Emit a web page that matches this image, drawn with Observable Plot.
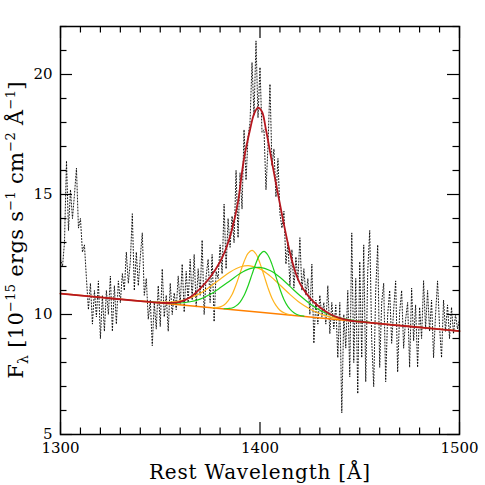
<!DOCTYPE html>
<html><head><meta charset="utf-8">
<script src="https://cdn.jsdelivr.net/npm/d3@7"></script>
<script src="https://cdn.jsdelivr.net/npm/@observablehq/plot@0.6"></script>
<style>body{margin:0;background:#fff} svg{display:block}</style>
</head><body><div id="chart"></div>
<script>
// Observed spectrum, 1 Å steps from 1300 to 1500 Å
const specStart = 1300;
const flux = [
12.3,12.0,13.0,16.4,13.5,15.2,14.0,15.0,16.1,13.6,
14.0,12.6,12.9,11.5,10.2,11.3,9.6,11.0,9.9,11.4,
9.0,10.8,9.3,11.0,10.0,11.6,9.3,11.2,9.6,11.4,
10.5,11.7,11.0,12.6,11.3,12.2,14.2,11.0,12.6,11.2,
12.4,13.4,10.8,11.5,9.8,10.6,8.7,10.5,9.4,11.2,
9.5,11.9,9.9,10.8,9.3,11.3,10.0,10.9,10.2,11.6,
10.4,12.1,10.1,11.8,10.5,12.3,10.6,12.5,10.3,11.9,
10.8,13.1,10.0,11.6,12.3,10.5,12.5,9.7,11.8,11.5,
12.9,11.7,14.6,11.9,14.0,12.8,14.1,13.0,16.0,13.2,
15.9,14.4,17.7,15.6,17.4,18.0,20.5,18.3,21.4,18.2,
20.3,17.6,17.7,15.2,17.0,19.6,16.2,16.9,14.9,16.5,
14.2,13.6,14.3,12.1,13.0,11.2,12.7,11.1,12.4,11.4,
13.2,11.0,11.9,10.8,11.5,10.0,12.1,8.8,10.6,9.6,
10.8,9.9,10.5,9.6,11.2,9.2,10.5,9.4,10.4,8.2,
10.5,5.9,10.0,8.6,11.0,7.4,13.4,8.0,11.5,6.7,
12.2,8.2,12.9,7.2,11.8,13.5,8.9,7.0,11.0,12.9,
7.8,10.5,11.3,7.2,10.0,11.0,8.8,10.2,11.4,7.6,
10.1,11.0,8.6,9.8,10.5,7.8,11.1,8.9,10.4,7.8,
10.3,9.0,11.4,9.4,11.0,9.3,10.6,8.2,10.0,11.4,
9.5,8.2,10.6,9.3,10.4,9.0,10.3,9.2,10.0,9.4,
9.8
];

// Continuum fit
const contWave = [1300, 1350, 1400, 1450, 1500];
const contFlux = [10.87, 10.48, 10.09, 9.70, 9.31];

// Total model fit
const totalWave = [1300,1320,1340,1350,1355,1360,1365,1370,1375,1380,1383,1386,1389,1390,1392,1395,1397,1399,1401,1403,1405,1407,1410,1412,1414,1416,1418,1420,1423,1426,1430,1435,1440,1445,1450,1475,1500];
const totalFlux = [10.87,10.71,10.56,10.49,10.48,10.53,10.72,11.08,11.55,12.2,12.75,13.55,14.7,15.3,16.5,17.7,18.35,18.62,18.45,17.7,16.8,15.9,14.6,13.75,12.95,12.25,11.7,11.3,10.9,10.6,10.3,10.02,9.85,9.75,9.70,9.50,9.31];

// Narrow components (continuum + line)
const narrowOrangeWave = [1376,1378,1380,1382,1384,1386,1388,1390,1392,1394,1396,1398,1400,1402,1404,1406,1408,1410,1412,1414,1416];
const narrowOrangeFlux = [10.29,10.29,10.32,10.40,10.57,10.83,11.24,11.72,12.20,12.55,12.67,12.52,12.13,11.63,11.11,10.68,10.38,10.18,10.07,10.01,9.98];
const narrowGreenWave = [1382,1384,1386,1388,1390,1392,1394,1396,1398,1400,1402,1404,1406,1408,1410,1412,1414,1416,1418,1420,1422];
const narrowGreenFlux = [10.24,10.25,10.27,10.36,10.52,10.79,11.19,11.67,12.15,12.50,12.63,12.47,12.09,11.58,11.06,10.63,10.33,10.14,10.02,9.96,9.93];

// Broad components (continuum + line)
const broadOrangeWave = [1340,1345,1350,1355,1360,1365,1370,1375,1380,1385,1390,1395,1400,1405,1410,1415,1420,1425,1430,1435,1440,1445,1450];
const broadOrangeFlux = [10.57,10.53,10.52,10.52,10.57,10.69,10.88,11.16,11.47,11.77,11.98,12.03,11.90,11.61,11.23,10.84,10.49,10.23,10.03,9.90,9.82,9.75,9.71];
const broadGreenWave = [1345,1350,1355,1360,1365,1370,1375,1380,1385,1390,1395,1400,1405,1410,1415,1420,1425,1430,1435,1440,1445,1450,1455];
const broadGreenFlux = [10.53,10.49,10.48,10.48,10.53,10.64,10.84,11.11,11.41,11.71,11.91,11.96,11.83,11.55,11.17,10.79,10.45,10.18,9.99,9.86,9.78,9.71,9.67];

// Ticks
const xMajor = [1300, 1400, 1500];
const xMinor = d3.range(1310, 1500, 10).filter(v => v !== 1400);
const yMajor = [5, 10, 15, 20];
const yMinor = d3.range(6, 23, 1).filter(v => !yMajor.includes(v));

const pts = (w, f) => w.map((x, i) => ({x, y: f[i]}));
const spec = flux.map((y, i) => ({x: specStart + i, y}));

const W = 485, H = 485, mL = 60, mR = 26, mT = 26, mB = 51;
const fw = W - mL - mR, fh = H - mT - mB;
const minorLen = 6.5, majorLen = 12;

const RED = "#b5171f", DORANGE = "#ff8000", ORANGE = "#ffb41e", GREEN = "#1ecf1e";

const chart = Plot.plot({
  width: W, height: H,
  marginLeft: mL, marginRight: mR, marginTop: mT, marginBottom: mB,
  x: {domain: [1300, 1500], label: null},
  y: {domain: [5, 22], label: null},
  style: {fontFamily: "'DejaVu Serif', serif", fontSize: "15px", color: "black", background: "white"},
  marks: [
    Plot.line(spec, {x: "x", y: "y", stroke: "black", strokeWidth: 0.9, strokeDasharray: "1,2", clip: true}),
    Plot.line(pts(contWave, contFlux), {x: "x", y: "y", stroke: DORANGE, strokeWidth: 1.5}),
    Plot.line(pts(broadOrangeWave, broadOrangeFlux), {x: "x", y: "y", stroke: ORANGE, strokeWidth: 1.2, curve: "catmull-rom"}),
    Plot.line(pts(narrowOrangeWave, narrowOrangeFlux), {x: "x", y: "y", stroke: ORANGE, strokeWidth: 1.2, curve: "catmull-rom"}),
    Plot.line(pts(broadGreenWave, broadGreenFlux), {x: "x", y: "y", stroke: GREEN, strokeWidth: 1.2, curve: "catmull-rom"}),
    Plot.line(pts(narrowGreenWave, narrowGreenFlux), {x: "x", y: "y", stroke: GREEN, strokeWidth: 1.2, curve: "catmull-rom"}),
    Plot.line(pts(totalWave, totalFlux), {x: "x", y: "y", stroke: RED, strokeWidth: 1.8, curve: "catmull-rom"}),
    // inward ticks
    Plot.ruleX(xMinor, {stroke: "black", strokeWidth: 1.2, insetTop: fh - minorLen}),
    Plot.ruleX(xMinor, {stroke: "black", strokeWidth: 1.2, insetBottom: fh - minorLen}),
    Plot.ruleX(xMajor, {stroke: "black", strokeWidth: 1.2, insetTop: fh - majorLen}),
    Plot.ruleX(xMajor, {stroke: "black", strokeWidth: 1.2, insetBottom: fh - majorLen}),
    Plot.ruleY(yMinor, {stroke: "black", strokeWidth: 1.2, insetRight: fw - minorLen}),
    Plot.ruleY(yMinor, {stroke: "black", strokeWidth: 1.2, insetLeft: fw - minorLen}),
    Plot.ruleY(yMajor, {stroke: "black", strokeWidth: 1.2, insetRight: fw - majorLen}),
    Plot.ruleY(yMajor, {stroke: "black", strokeWidth: 1.2, insetLeft: fw - majorLen}),
    Plot.axisX(xMajor, {tickSize: 0, tickPadding: 8, label: null, fontSize: 15, tickFormat: d => String(d)}),
    Plot.axisY(yMajor, {tickSize: 0, tickPadding: 8, label: null, fontSize: 15, tickFormat: d => String(d)}),
    Plot.frame({stroke: "black", strokeWidth: 1.5})
  ]
});

document.getElementById("chart").appendChild(chart);

const svg = d3.select(chart);
svg.append("text")
  .attr("x", mL + fw / 2).attr("y", 479)
  .attr("text-anchor", "middle")
  .attr("font-family", "'DejaVu Serif', serif")
  .attr("font-size", 20)
  .attr("fill", "black")
  .attr("textLength", 221).attr("lengthAdjust", "spacing")
  .text("Rest Wavelength [Å]");

const yl = svg.append("text")
  .attr("transform", `translate(22.5,${mT + fh / 2}) rotate(-90)`)
  .attr("text-anchor", "middle")
  .attr("font-family", "'DejaVu Serif', serif")
  .attr("font-size", 21)
  .attr("letter-spacing", "0.3px")
  .attr("fill", "black");
const parts = [
  ["F", 0, 21], ["λ", 5, 14], [" [10", -5, 21], ["−15", -8, 13], [" ergs s", 8, 21], ["−1", -8, 13],
  [" cm", 8, 21], ["−2", -8, 13], [" Å", 8, 21], ["−1", -8, 13], ["]", 8, 21]
];
parts.forEach(([t, dy, fs]) => {
  yl.append("tspan").attr("dy", dy).attr("font-size", fs).text(t);
});
</script>
</body></html>
